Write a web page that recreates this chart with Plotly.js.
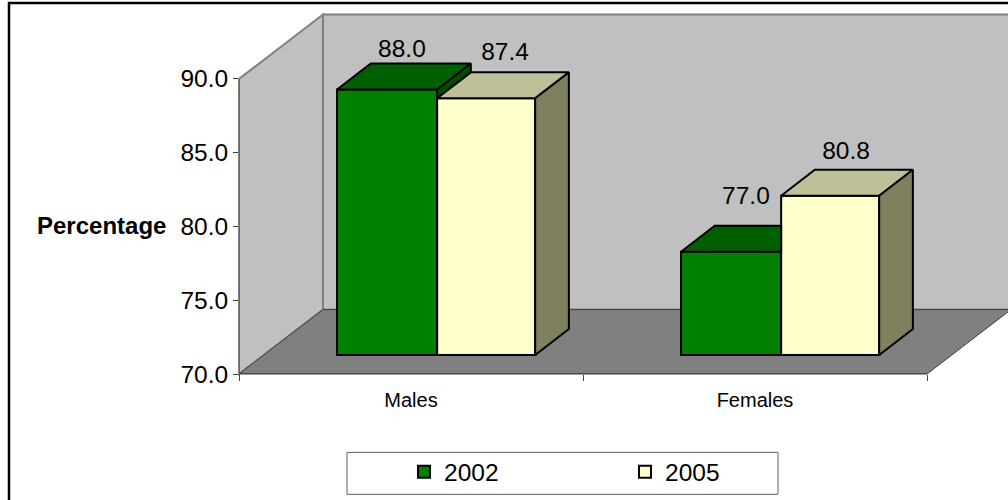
<!DOCTYPE html>
<html>
<head>
<meta charset="utf-8">
<script src="https://cdn.plot.ly/plotly-3.0.1.min.js"></script>
<style>
html,body{margin:0;padding:0;background:#fff;}
#chart{width:1008px;height:500px;}
</style>
</head>
<body>
<div id="chart"></div>
<script>
// ---- data ----
var categories = ["Males", "Females"];
var years = ["2002", "2005"];
var values2002 = [88.0, 77.0];
var values2005 = [87.4, 80.8];
var yTicks = [70, 75, 80, 85, 90];
var yTitle = "Percentage";

// ---- geometry (plot area in px) ----
var L = 239, R = 1008, T = 15, B = 374.5;
var catPx = 344, unitPx = 14.775;
var xMax = -0.5 + (R - L) / catPx, yMax = 70 + (B - T) / unitPx;
function px(x){ return (x - L) / (R - L); }
function py(y){ return (B - y) / (B - T); }
function pathOf(pts){ return pts.map(function(p,i){ return (i?"L":"M") + px(p[0]) + "," + py(p[1]); }).join("") + "Z"; }

// 3D box depth, in data units
var depthX = 33.7 / catPx, depthY = 26 / unitPx, baseLift = 19 / unitPx;
var seriesOffset = [-0.215, 0.076], seriesWidth = [0.291, 0.285];
var seriesColor = ["#008000", "#FFFFCC"], topColor = ["#006000", "#BFBF99"], sideColor = ["#004D00", "#80805F"];
var allValues = [values2002, values2005];
var labelLift = [[39, 44], [54, 43]];
var labelNudge = [[-2, 2], [-2, -1]];

var traces = [];
allValues.forEach(function(vals, s){
  traces.push({
    type: "bar", name: years[s], x: [0, 1],
    y: vals.map(function(v){ return v - 70; }),
    base: vals.map(function(){ return 70 + baseLift; }),
    offset: seriesOffset[s], width: seriesWidth[s],
    marker: {color: seriesColor[s], line: {color: "#000", width: 2}},
    hoverinfo: "skip"
  });
});
function poly(xs, ys, color){
  traces.push({type:"scatter", mode:"lines", x:xs, y:ys, fill:"toself", fillcolor:color,
    line:{color:"#000", width:2}, showlegend:false, hoverinfo:"skip"});
}
categories.forEach(function(c, i){
  allValues.forEach(function(vals, s){
    var x0 = i + seriesOffset[s], x1 = x0 + seriesWidth[s];
    var top = vals[i] + baseLift, bottom = 70 + baseLift;
    var next = s < allValues.length - 1 ? allValues[s+1][i] + baseLift : null;
    if (next !== null && next >= top) {
      poly([x0, x0+depthX, x1, x1, x0], [top, top+depthY, top+depthY, top, top], topColor[s]);
    } else {
      poly([x0, x0+depthX, x1+depthX, x1, x0], [top, top+depthY, top+depthY, top, top], topColor[s]);
      var low = next === null ? bottom : next;
      poly([x1, x1+depthX, x1+depthX, x1, x1], [top, top+depthY, low+depthY, low, top], sideColor[s]);
    }
  });
});
// data labels
var lx = [], ly = [], lt = [];
categories.forEach(function(c, i){
  allValues.forEach(function(vals, s){
    lx.push(i + seriesOffset[s] + seriesWidth[s]/2 + (depthX/2) + labelNudge[i][s] / catPx);
    ly.push(vals[i] + baseLift + labelLift[i][s] / unitPx);
    lt.push(vals[i].toFixed(1));
  });
});
traces.push({type:"scatter", mode:"text", x:lx, y:ly, text:lt, textposition:"middle center",
  textfont:{family:"Liberation Sans", size:24.5, color:"#000"}, showlegend:false, hoverinfo:"skip"});

var wx = 84, wy = 64.5, axisTop = B - 20 * unitPx, axisRight = L + 2 * catPx;
var shapes = [
  {type:"path", layer:"below", xref:"paper", yref:"paper", fillcolor:"#C0C0C0", line:{color:"#808080",width:2},
   path:pathOf([[L,axisTop],[L+wx,axisTop-wy],[L+wx,B-wy],[L,B]])},
  {type:"path", layer:"below", xref:"paper", yref:"paper", fillcolor:"#C0C0C0", line:{color:"#808080",width:2},
   path:pathOf([[L+wx,axisTop-wy],[1025,axisTop-wy],[1025,B-wy],[L+wx,B-wy]])},
  {type:"path", layer:"below", xref:"paper", yref:"paper", fillcolor:"#808080", line:{color:"#404040",width:1},
   path:pathOf([[L,B],[L+wx,B-wy],[axisRight+wx,B-wy],[axisRight,B]])},
  // legend box
  {type:"rect", layer:"below", xref:"paper", yref:"paper", x0:px(347), x1:px(778), y0:py(453), y1:py(495),
   fillcolor:"#fff", line:{color:"#606060",width:1}},
  // outer frame
  {type:"rect", layer:"below", xref:"paper", yref:"paper", x0:px(9), x1:px(1030), y0:py(3), y1:py(520),
   fillcolor:"rgba(0,0,0,0)", line:{color:"#000",width:2.5}},
  // axis lines
  {type:"line", layer:"above", xref:"x", yref:"y", x0:-0.5, x1:1.5, y0:70, y1:70, line:{color:"#404040",width:1.5}},
  {type:"line", layer:"above", xref:"x", yref:"y", x0:-0.5, x1:-0.5, y0:70, y1:90, line:{color:"#606060",width:1.5}}
];

var layout = {
  width: 1008, height: 500,
  margin: {l: L, r: 1008 - R, t: T, b: 500 - B, pad: 0, autoexpand: false},
  paper_bgcolor: "#fff", plot_bgcolor: "rgba(0,0,0,0)",
  font: {family: "Liberation Sans", color: "#000"},
  barmode: "overlay",
  xaxis: {
    type: "linear", range: [-0.5, xMax], tickmode: "array", tickvals: [0, 1], ticktext: categories,
    ticks: "outside", ticklen: 8, tickcolor: "rgba(0,0,0,0)", tickfont: {size: 20},
    showgrid: false, zeroline: false, showline: false,
    minor: {tickmode: "array", tickvals: [-0.5, 0.5, 1.5], ticks: "outside", ticklen: 6, tickcolor: "#404040", tickwidth: 1, showgrid: false}
  },
  yaxis: {
    range: [70, yMax], tickmode: "array", tickvals: yTicks, ticktext: yTicks.map(function(v){return v.toFixed(1);}),
    ticks: "outside", ticklen: 5, tickcolor: "#404040", tickwidth: 1, tickfont: {size: 24.5},
    showgrid: false, zeroline: false, showline: false
  },
  shapes: shapes,
  annotations: [{xref:"paper", yref:"paper", x:px(168), y:py(226), xanchor:"right", yanchor:"middle",
    text:"<b>"+yTitle+"</b>", showarrow:false, font:{size:24, color:"#000"}}],
  showlegend: true,
  legend: {orientation:"h", xref:"paper", yref:"paper", x:px(404), y:py(450), xanchor:"left", yanchor:"top",
    bgcolor:"rgba(0,0,0,0)", borderwidth:0, entrywidth:176, entrywidthmode:"pixels", font:{size:24.5}, traceorder:"normal"}
};
Plotly.newPlot("chart", traces, layout, {staticPlot:true, displayModeBar:false});
</script>
</body>
</html>
